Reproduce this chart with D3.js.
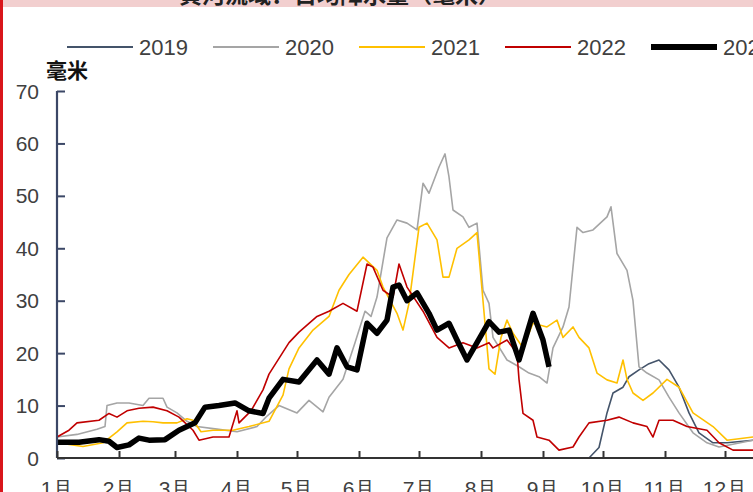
<!DOCTYPE html>
<html><head><meta charset="utf-8">
<script src="https://cdn.jsdelivr.net/npm/d3@7"></script>
<style>
html,body{margin:0;padding:0;background:#fff;overflow:hidden;}
svg{display:block;}
</style></head>
<body>
<svg id="c" width="753" height="492"></svg>
<script>
// ---- data (day of year, value in mm) ----
const years = ["2019","2020","2021","2022","2023"];
const colors = ["#44546a","#a5a5a5","#ffc000","#c00000","#000000"];
const monthLabels = ["1月","2月","3月","4月","5月","6月","7月","8月","9月","10月","11月","12月"];
const yTicks = [0,10,20,30,40,50,60,70];

const d2019 = [262,266,271,275,278,283,286,291,296,301,306,311,316,321,328,335,348,364];
const v2019 = [0,0,2,8.6,12.4,13.5,15.5,16.8,18,18.7,16.8,13.5,8.6,4.8,2.9,2.9,3.4,3.4];

const d2020 = [0,10,20,24,25,30,36,43,46,53,55,60,65,70,80,90,100,105,111,120,126,133,136,143,149,154,157,160,165,170,175,180,183,186,191,194,196,198,203,206,210,213,216,218,225,231,236,241,245,248,253,256,260,263,268,275,277,280,285,288,291,295,301,306,311,318,325,331,348,364];
const v2020 = [4,4.5,5.5,6,10,10.5,10.5,10,11.4,11.4,9.7,8.6,7,6,5.5,5,6,8,10,8.6,11,8.8,11.6,15,22,28,27,30.7,42,45.4,44.8,43.5,52.4,50.5,55.5,58,53.6,47.3,46,44,44.8,32,29.5,23,18.7,17.4,16.2,15.5,14.3,21,25,28.8,44,43,43.5,46,47.9,39,35.8,30,17.4,16.2,14.9,11.6,8.6,4.8,2.9,2.1,3.4,3.4];

const d2021 = [0,13,23,30,35,43,48,53,60,65,68,72,78,88,96,106,113,116,121,128,136,141,146,153,160,163,170,173,176,181,185,190,193,196,200,206,210,213,216,219,222,225,228,233,238,245,250,253,258,261,266,270,275,280,283,285,288,293,298,305,311,318,328,335,348,364];
const v2021 = [2.9,2.2,2.9,5,6.7,7,6.9,6.7,6.7,7.5,7.2,5,5.3,5.3,6,7,12,17,21,24.4,27,32,35,38.3,35.8,32.6,27.6,24.4,29.5,44,44.8,41.6,34.5,34.5,40,41.6,43,30,17,16,23,26.3,23.8,21,25.7,25,26.3,23,25,23,21,16.2,14.9,14.3,18.7,15,12.4,11,12.4,15,13.5,8.6,6,3.4,4,4];

const d2022 = [0,6,10,21,26,30,35,41,48,55,61,68,71,78,86,90,91,97,103,106,116,121,130,136,143,150,155,158,163,168,171,175,183,190,196,203,210,216,218,225,230,231,233,238,240,246,251,258,261,266,275,281,288,295,298,301,308,315,325,331,338,364];
const v2022 = [4,5.3,6.7,7.2,8.5,7.8,9,9.5,9.7,9,7.8,5.3,3.4,4,4,9,6.7,9,13,16,22,24,27,28,29.5,28,37,36.4,32,30.7,37,32.6,28,23,21,22,21,22,21,22.5,20,15,8.5,7.2,4,3.4,1.5,2.1,4,6.7,7.2,7.8,6.7,6,4,7.2,7.2,6,5.3,2.9,1.5,1.5];

const d2023 = [0,11,21,26,30,36,41,46,54,61,69,74,81,89,96,103,106,113,121,130,136,140,145,150,155,160,165,168,171,175,180,186,190,196,200,205,210,216,221,226,231,238,243,246];
const v2023 = [3,3,3.5,3.2,2,2.5,3.8,3.4,3.5,5.3,6.7,9.7,10,10.5,9,8.5,11.4,15,14.5,18.7,16,21,17.4,16.8,25.7,23.8,26.3,32.6,33,30,31.5,27.6,24.4,25.7,22.5,18.7,22,26,24,24.4,18.7,27.6,22.5,17.4];

const seriesDays = [d2019,d2020,d2021,d2022,d2023];
const seriesVals = [v2019,v2020,v2021,v2022,v2023];

// ---- layout ----
const svg = d3.select("#c");
const base = new Date(2023,0,1);
const x = d3.scaleTime().domain([base, new Date(2023,11,31)]).range([57,785]);
const y = d3.scaleLinear().domain([0,70]).range([458,91]);
const fontF = "'Liberation Sans', Arial, sans-serif";

// top pink band + cut title
svg.append("rect").attr("x",0).attr("y",0).attr("width",753).attr("height",7).attr("fill","#f2cfcf");
svg.append("text").attr("x",340).attr("y",3).attr("text-anchor","middle")
  .attr("font-family","'Noto Sans CJK SC', sans-serif").attr("font-size",23).attr("font-weight","bold")
  .attr("fill","#222").text("黄河流域：日均降水量（毫米）");
// red left border
svg.append("rect").attr("x",0).attr("y",0).attr("width",3).attr("height",492).attr("fill","#d9151b");

// lines
const line = d3.line().x(d=>x(d3.timeDay.offset(base,d[0]))).y(d=>y(d[1]));
years.forEach((yr,i)=>{
  const pts = seriesDays[i].map((d,j)=>[d, seriesVals[i][j]]);
  svg.append("path").datum(pts).attr("d",line).attr("fill","none")
    .attr("stroke",colors[i]).attr("stroke-width", i===4?5.5:1.6)
    .attr("stroke-linejoin","round");
});

// y axis
const ya = svg.append("g").attr("transform","translate(57,0)")
  .call(d3.axisRight(y).tickValues(yTicks).tickSize(8).tickFormat(""));
ya.select(".domain").attr("stroke","#3b4766").attr("stroke-width",2.2).attr("d","M0,91V458");
ya.selectAll(".tick line").attr("stroke","#3b4766").attr("stroke-width",2);
svg.append("g").selectAll("text").data(yTicks).join("text")
  .attr("x",39).attr("y",d=>y(d)+7.5).attr("text-anchor","end")
  .attr("font-family",fontF).attr("font-size",21).attr("fill","#404040").text(d=>d);

// x axis
const months = d3.range(12).map(m=>new Date(2023,m,1));
const xa = svg.append("g").attr("transform","translate(0,458)")
  .call(d3.axisTop(x).tickValues(months).tickSize(7).tickFormat(""));
xa.select(".domain").attr("stroke","#333").attr("stroke-width",2.2).attr("d","M57,0H785");
xa.selectAll(".tick line").attr("stroke","#333").attr("stroke-width",2);
svg.append("g").selectAll("text").data(months).join("text")
  .attr("x",d=>x(d)).attr("y",496).attr("text-anchor","middle")
  .attr("font-family",fontF).attr("font-size",21).attr("fill","#404040")
  .text((d,i)=>monthLabels[i]);

// unit label
svg.append("text").attr("x",46).attr("y",78).attr("font-family","'Noto Sans CJK SC', sans-serif")
  .attr("font-size",21).attr("font-weight","bold").attr("fill","#111").text("毫米");

// legend
const lg = svg.append("g");
years.forEach((yr,i)=>{
  const x0 = 67 + i*146;
  lg.append("line").attr("x1",x0).attr("x2",x0+66).attr("y1",47).attr("y2",47)
    .attr("stroke",colors[i]).attr("stroke-width", i===4?6:1.8);
  lg.append("text").attr("x",x0+72).attr("y",55).attr("font-family",fontF)
    .attr("font-size",22).attr("fill","#404040").text(yr);
});
</script>
</body></html>
